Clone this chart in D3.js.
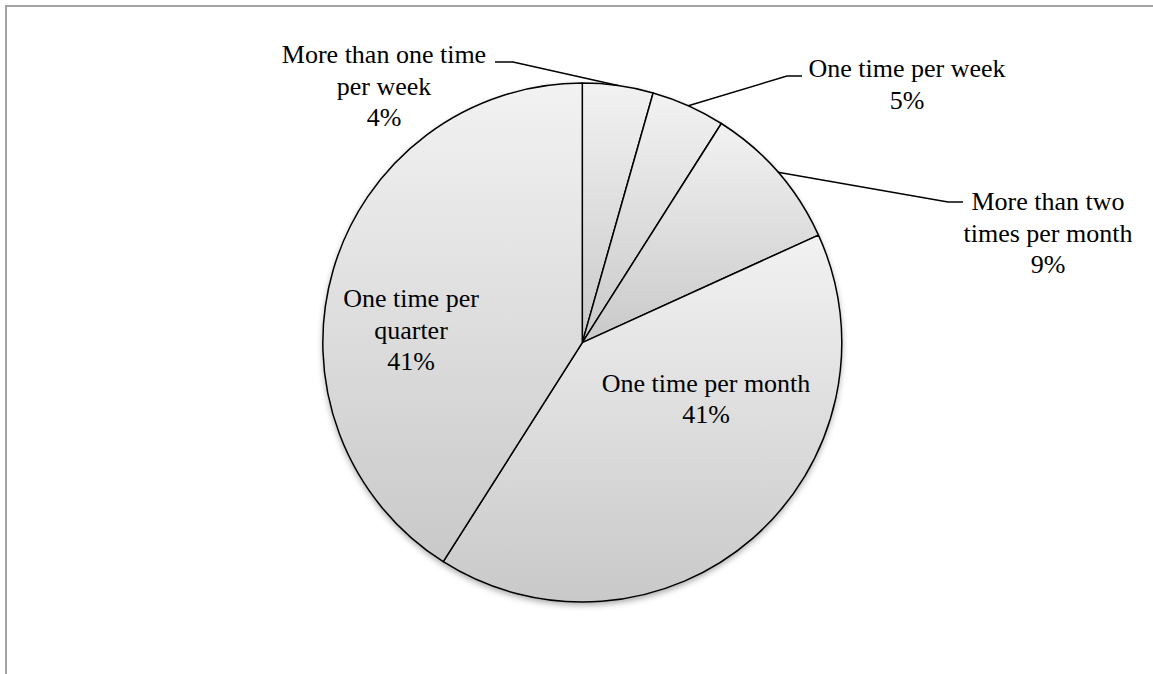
<!DOCTYPE html>
<html>
<head>
<meta charset="utf-8">
<script src="https://cdn.jsdelivr.net/npm/d3@7"></script>
<style>
  html, body { margin: 0; padding: 0; background: #fff; overflow: hidden; }
  svg { display: block; }
  text { font-family: "Liberation Serif", "Times New Roman", serif; fill: #000; }
</style>
</head>
<body>
<svg id="chart" width="1153" height="674"></svg>
<script>
// ---- data ----
const categories = [
  "More than one time per week",
  "One time per week",
  "More than two times per month",
  "One time per month",
  "One time per quarter"
];
const values = [4.4, 4.6, 9.2, 40.8, 41.0];
const labelLines = [
  ["More than one time", "per week"],
  ["One time per week"],
  ["More than two", "times per month"],
  ["One time per month"],
  ["One time per", "quarter"]
];

// ---- layout ----
const W = 1153, H = 674;
const cx = 582.3, cy = 342.6, R = 259.5;
const fontSize = 26, lineH = 31.5;
// label anchor (center x, first baseline) and leader (elbow, horizontal end)
const labelLayout = [
  { x: 384, y: 63,  leader: { elbow: [513, 62], end: [495, 62] } },
  { x: 907, y: 77,  leader: { elbow: [787, 76], end: [802, 76] } },
  { x: 1048, y: 210, leader: { elbow: [948, 202], end: [963, 202] } },
  { x: 706, y: 391.5, leader: null },
  { x: 411, y: 307, leader: null }
];

const svg = d3.select("#chart");
const defs = svg.append("defs");

// border
svg.append("rect")
  .attr("x", 6).attr("y", 6)
  .attr("width", W + 20).attr("height", H + 20)
  .attr("fill", "none")
  .attr("stroke", "#a3a3a3")
  .attr("stroke-width", 2);

// gradient (per slice bounding box)
const grad = defs.append("linearGradient")
  .attr("id", "sliceGrad")
  .attr("x1", 0).attr("y1", 0).attr("x2", 0).attr("y2", 1);
grad.append("stop").attr("offset", "0%").attr("stop-color", "#f2f2f2");
grad.append("stop").attr("offset", "100%").attr("stop-color", "#c9c9c9");

// shadow
const flt = defs.append("filter").attr("id", "shadow")
  .attr("x", "-10%").attr("y", "-10%").attr("width", "120%").attr("height", "120%");
flt.append("feDropShadow")
  .attr("dx", 0).attr("dy", 3).attr("stdDeviation", 3)
  .attr("flood-color", "#000").attr("flood-opacity", 0.35);

const pie = d3.pie().sort(null).value(d => d)(values);
const arc = d3.arc().innerRadius(0).outerRadius(R);

const g = svg.append("g").attr("transform", `translate(${cx},${cy})`);

// shadow base
g.append("circle").attr("r", R).attr("fill", "#d0d0d0").attr("filter", "url(#shadow)");

g.selectAll("path.slice")
  .data(pie)
  .join("path")
  .attr("class", "slice")
  .attr("d", arc)
  .attr("fill", "url(#sliceGrad)")
  .attr("stroke", "#000")
  .attr("stroke-width", 1.5)
  .attr("stroke-linejoin", "round");

// leader lines
pie.forEach((p, i) => {
  const L = labelLayout[i].leader;
  if (!L) return;
  const a = (p.startAngle + p.endAngle) / 2;
  const px = cx + R * Math.sin(a), py = cy - R * Math.cos(a);
  svg.append("polyline")
    .attr("points", `${px},${py} ${L.elbow[0]},${L.elbow[1]} ${L.end[0]},${L.end[1]}`)
    .attr("fill", "none")
    .attr("stroke", "#000")
    .attr("stroke-width", 1.5);
});

// labels
pie.forEach((p, i) => {
  const lay = labelLayout[i];
  const lines = labelLines[i].concat([Math.round(values[i]) + "%"]);
  const t = svg.append("text")
    .attr("text-anchor", "middle")
    .attr("font-size", fontSize);
  lines.forEach((ln, k) => {
    t.append("tspan").attr("x", lay.x).attr("y", lay.y + k * lineH).text(ln);
  });
});
</script>
</body>
</html>
